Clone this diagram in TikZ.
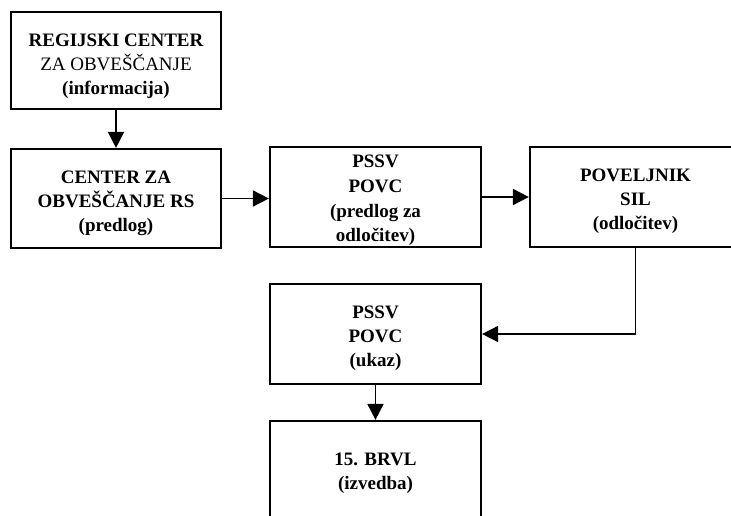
\documentclass[tikz,border=0pt]{standalone}
\usepackage{fontspec}
\setmainfont{Liberation Serif}
\usetikzlibrary{arrows.meta}
\begin{document}
\begin{tikzpicture}[x=1pt,y=-1pt,
  box/.style={draw=black,line width=2.2pt,rectangle,inner sep=0pt},
  txt/.style={anchor=north,align=center,inner sep=0pt,font=\fontsize{19}{24}\selectfont\bfseries},
  conn/.style={line width=1.7pt,-{Triangle[length=16pt,width=16pt]}}]
\useasboundingbox (0,0) rectangle (731,516);
\begin{scope}
\clip (0,0) rectangle (731,516);
\node[box,minimum width=210pt,minimum height=97pt] (b1) at (116,60.5) {};
\node[box,minimum width=210pt,minimum height=99pt] (b2) at (116,198.5) {};
\node[box,minimum width=211pt,minimum height=100pt] (b3) at (375.5,197) {};
\node[box,minimum width=211pt,minimum height=100pt] (b4) at (635.5,197) {};
\node[box,minimum width=211pt,minimum height=100pt] (b5) at (375.5,334) {};
\node[box,minimum width=211pt,minimum height=100pt] (b6) at (375.5,471) {};
\end{scope}
\node[txt] (t1) at (116,34) {REGIJSKI CENTER\\{\mdseries ZA OBVEŠČANJE}\\(informacija)};
\node[txt] (t2) at (116,170.5) {CENTER ZA\\OBVEŠČANJE RS\\(predlog)};
\node[txt,font=\fontsize{19}{24.7}\selectfont\bfseries] (t3) at (375.5,155) {PSSV\\POVC\\(predlog za\\odločitev)};
\node[txt] (t4) at (635.5,168.5) {POVELJNIK\\SIL\\(odločitev)};
\node[txt] (t5) at (375.5,305.5) {PSSV\\POVC\\(ukaz)};
\node[txt] (t6) at (375.5,452.5) {15. BRVL\\(izvedba)};
\draw[conn] (b1.south) -- (b2.north);
\draw[conn] (b2.east) -- (b3.west |- b2.east);
\draw[conn] (b3.east) -- (b4.west |- b3.east);
\draw[conn] (b4.south) |- (b5.east);
\draw[conn] (b5.south) -- (b6.north);
\end{tikzpicture}
\end{document}
